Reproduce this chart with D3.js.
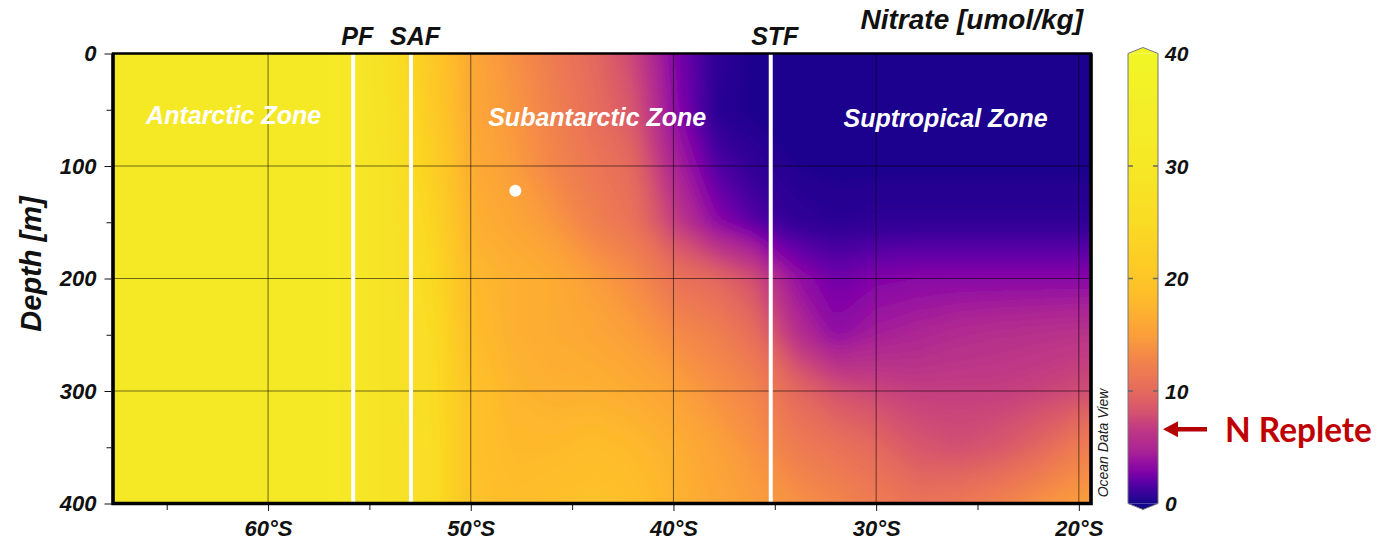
<!DOCTYPE html>
<html>
<head>
<meta charset="utf-8">
<script src="https://cdn.jsdelivr.net/npm/d3@7"></script>
<style>
  body { margin: 0; background: #fff; }
  svg { display: block; font-family: "Liberation Sans", Arial, sans-serif; }
  .ax text { font-weight: bold; font-style: italic; font-size: 22px; fill: #111; }
  .ax line { stroke: #111; }
</style>
</head>
<body>
<svg id="chart" width="1383" height="541"></svg>
<script>
// ------------------------------------------------------------------ //
//  Nitrate section, values (umol/kg)            //
// ------------------------------------------------------------------ //

// grid columns (deg, negative = south) and rows (m)
var lats = [-68, -66, -64, -62, -60, -58, -56, -54, -52, -50, -48, -46, -44,
            -42, -40, -38, -36, -34, -32, -30, -28, -26, -24, -22, -20, -18];
var depths = [0, 50, 100, 150, 200, 250, 300, 350, 400];

var no3_000 = [31, 31, 31, 31, 31, 31, 30, 27, 21, 16, 14, 12, 10, 7.5, 3, 0.8, 0.3, 0.2, 0.2, 0.2, 0.2, 0.2, 0.2, 0.2, 0.2, 0.2];
var no3_050 = [31, 31, 31, 31, 31, 31, 30, 27.5, 21.5, 16, 14.5, 12.5, 10.5, 8.5, 3.5, 0.6, 0.3, 0.2, 0.2, 0.2, 0.2, 0.2, 0.2, 0.2, 0.2, 0.2];
var no3_100 = [31, 31, 31, 31, 31, 31, 30, 28, 22.5, 16.5, 15, 13, 11.5, 10, 5, 1.8, 0.8, 0.4, 0.3, 0.3, 0.3, 0.3, 0.3, 0.3, 0.3, 0.3];
var no3_150 = [31, 31, 31, 31, 31, 31, 30, 28, 24, 17, 16, 14.5, 12.5, 11, 7, 3.5, 1.8, 0.8, 0.6, 0.7, 0.7, 0.7, 0.7, 0.7, 0.7, 0.7];
var no3_200 = [31, 31, 31, 31, 31, 31, 30, 28, 25, 18, 17, 16.5, 15, 13.5, 11, 10, 8, 3.8, 2.5, 3, 3.2, 3.2, 3.2, 3.2, 3.2, 3.2];
var no3_250 = [31, 31, 31, 31, 31, 31, 30, 28, 26, 18.5, 17, 16.5, 16, 15, 13.5, 12.5, 10.5, 6, 3.5, 4.5, 5, 5.5, 5.8, 6, 6.2, 6.2];
var no3_300 = [31, 31, 31, 31, 31, 31, 30, 28, 26, 19.5, 17.5, 17, 17, 16.5, 15.5, 14, 12.8, 10, 8.2, 7.5, 7, 7, 7, 7.3, 7.8, 8];
var no3_350 = [31, 31, 31, 31, 31, 31, 30, 28, 26.5, 19.5, 18, 18, 18.5, 18, 17, 15.5, 14, 12, 11, 10, 8.5, 8, 8.5, 9.8, 12, 12.5];
var no3_400 = [31, 31, 31, 31, 31, 31, 30, 28, 26.5, 19.5, 18.5, 19, 19.5, 19, 17.5, 16, 15, 14, 13, 12, 11, 11.5, 12.5, 14, 15, 15.5];
var grid = [no3_000, no3_050, no3_100, no3_150, no3_200, no3_250, no3_300, no3_350, no3_400];

var fronts = [{name: "PF", lat: -55.8}, {name: "SAF", lat: -52.95}, {name: "STF", lat: -35.2}];
var zones = [
  {name: "Antarctic Zone", lat: -61.7, depth: 63},
  {name: "Subantarctic Zone", lat: -43.76, depth: 64},
  {name: "Suptropical Zone", lat: -26.57, depth: 65.5}
];
var marker = [{lat: -47.8, depth: 122}];

var latTicks = [-60, -50, -40, -30, -20];
var latMinor = [-65, -55, -45, -35, -25];
var depthTicks = [0, 100, 200, 300, 400];
var depthMinor = [50, 150, 250, 350];
var cbarTicks = [0, 10, 20, 30, 40];
var repleteLevel = 6.6;

// ODV colour bar: value -> position along plasma
var stopValues = [0, 1.2, 3, 4.7, 6.6, 8.3, 10, 12.7, 15, 18, 20, 25, 30, 40];
var stopPlasma = [0.01, 0.1, 0.27, 0.38, 0.45, 0.55, 0.62, 0.70, 0.78, 0.85, 0.88, 0.93, 0.96, 0.99];

// ------------------------------------------------------------------ //
//  Setup                                                              //
// ------------------------------------------------------------------ //

var svg = d3.select("#chart");

var x = d3.scaleLinear().domain([-67.65, -19.4]).range([113, 1091]);
var y = d3.scaleLinear().domain([0, 400]).range([53.5, 503.5]);
var cy = d3.scaleLinear().domain([0, 40]).range([503.5, 53.5]);

var tScale = d3.scaleLinear().domain(stopValues).range(stopPlasma).clamp(true);
function color(v) { return d3.interpolatePlasma(tScale(v)); }

var defs = svg.append("defs");
defs.append("clipPath").attr("id", "plotclip")
  .append("rect")
  .attr("x", x.range()[0]).attr("y", y.range()[0])
  .attr("width", x.range()[1] - x.range()[0])
  .attr("height", y.range()[1] - y.range()[0]);

defs.append("filter").attr("id", "soft")
  .attr("x", "-5%").attr("y", "-5%").attr("width", "110%").attr("height", "110%")
  .append("feGaussianBlur").attr("stdDeviation", 7);

// ------------------------------------------------------------------ //
//  Gridded field as filled contours                                   //
// ------------------------------------------------------------------ //

var n = lats.length, m = depths.length;
var values = [];
grid.forEach(function(row) { row.forEach(function(v) { values.push(v); }); });

var contours = d3.contours()
  .size([n, m])
  .smooth(true)
  .thresholds(d3.range(0, 40, 0.2))(values);

var gx = d3.scaleLinear().domain([0.5, n - 0.5]).range([x(lats[0]), x(lats[n - 1])]);
var gy = d3.scaleLinear().domain([0.5, m - 0.5]).range([y(depths[0]), y(depths[m - 1])]);
var path = d3.geoPath(d3.geoTransform({
  point: function(px, py) { this.stream.point(gx(px), gy(py)); }
}));

svg.append("g").attr("clip-path", "url(#plotclip)")
  .append("g").attr("filter", "url(#soft)")
  .selectAll("path")
  .data(contours)
  .enter().append("path")
  .attr("d", path)
  .attr("fill", function(d) { return color(d.value); });

// grid lines
var gridG = svg.append("g").attr("stroke", "rgba(0,0,0,0.55)").attr("stroke-width", 1);
gridG.selectAll(".vl").data(latTicks).enter().append("line")
  .attr("x1", function(d) { return x(d); }).attr("x2", function(d) { return x(d); })
  .attr("y1", y(0)).attr("y2", y(400));
gridG.selectAll(".hl").data([100, 200, 300]).enter().append("line")
  .attr("x1", x.range()[0]).attr("x2", x.range()[1])
  .attr("y1", function(d) { return y(d); }).attr("y2", function(d) { return y(d); });

// fronts
svg.append("g").selectAll("line").data(fronts).enter().append("line")
  .attr("x1", function(d) { return x(d.lat); }).attr("x2", function(d) { return x(d.lat); })
  .attr("y1", y(0)).attr("y2", y(400))
  .attr("stroke", "#fff").attr("stroke-width", 4);

svg.append("g").selectAll("text").data(fronts).enter().append("text")
  .attr("x", function(d) { return x(d.lat) + 4; })
  .attr("y", 45)
  .attr("text-anchor", "middle")
  .style("font-weight", "bold").style("font-style", "italic").style("font-size", "25px")
  .attr("fill", "#111")
  .text(function(d) { return d.name; });

// marker
svg.append("g").selectAll("circle").data(marker).enter().append("circle")
  .attr("cx", function(d) { return x(d.lat); })
  .attr("cy", function(d) { return y(d.depth); })
  .attr("r", 6).attr("fill", "#fff");

// zone labels
svg.append("g").selectAll("text").data(zones).enter().append("text")
  .attr("x", function(d) { return x(d.lat); })
  .attr("y", function(d) { return y(d.depth); })
  .attr("text-anchor", "middle")
  .style("font-weight", "bold").style("font-style", "italic").style("font-size", "25px")
  .attr("fill", "#fff")
  .text(function(d) { return d.name; });

// frame
svg.append("rect")
  .attr("x", x.range()[0]).attr("y", y.range()[0])
  .attr("width", x.range()[1] - x.range()[0])
  .attr("height", y.range()[1] - y.range()[0])
  .attr("fill", "none").attr("stroke", "#000").attr("stroke-width", 2.5);
svg.append("path")
  .attr("d", "M" + x.range()[0] + "," + y.range()[0] + "V" + y.range()[1] + "H" + x.range()[1] + "V" + y.range()[0])
  .attr("fill", "none").attr("stroke", "#000").attr("stroke-width", 3.5);

// ------------------------------------------------------------------ //
//  Axes                                                               //
// ------------------------------------------------------------------ //

svg.append("g").attr("class", "ax")
  .attr("transform", "translate(" + (x.range()[0] - 1.5) + ",0)")
  .call(d3.axisLeft(y).tickValues(depthTicks).tickSize(7).tickSizeOuter(0).tickPadding(8));
svg.append("g").attr("class", "ax")
  .attr("transform", "translate(" + (x.range()[0] - 1.5) + ",0)")
  .call(d3.axisLeft(y).tickValues(depthMinor).tickSize(5).tickSizeOuter(0).tickFormat(""));

svg.append("g").attr("class", "ax")
  .attr("transform", "translate(0," + (y.range()[1] + 1.5) + ")")
  .call(d3.axisBottom(x).tickValues(latTicks).tickSize(6).tickSizeOuter(0).tickPadding(9)
    .tickFormat(function(d) { return Math.abs(d) + "°S"; }));
svg.append("g").attr("class", "ax")
  .attr("transform", "translate(0," + (y.range()[1] + 1.5) + ")")
  .call(d3.axisBottom(x).tickValues(latMinor).tickSize(5).tickSizeOuter(0).tickFormat(""));

svg.selectAll(".ax .domain").remove();

svg.append("text")
  .attr("transform", "translate(41,264) rotate(-90)")
  .attr("text-anchor", "middle")
  .style("font-weight", "bold").style("font-style", "italic").style("font-size", "29px")
  .attr("fill", "#111")
  .text("Depth [m]");

svg.append("text")
  .attr("x", 1083).attr("y", 29)
  .attr("text-anchor", "end")
  .style("font-weight", "bold").style("font-style", "italic").style("font-size", "28px")
  .attr("fill", "#111")
  .text("Nitrate [umol/kg]");

svg.append("text")
  .attr("transform", "translate(1108,443) rotate(-90)")
  .attr("text-anchor", "middle")
  .style("font-style", "italic").style("font-size", "14px")
  .attr("fill", "#222")
  .text("Ocean Data View");

// ------------------------------------------------------------------ //
//  Colour bar                                                         //
// ------------------------------------------------------------------ //

var cbX0 = 1128, cbX1 = 1158;
var grad = defs.append("linearGradient").attr("id", "cbar")
  .attr("x1", 0).attr("y1", 1).attr("x2", 0).attr("y2", 0);
grad.selectAll("stop").data(d3.range(0, 40.01, 0.5)).enter().append("stop")
  .attr("offset", function(d) { return d / 40; })
  .attr("stop-color", function(d) { return color(d); });

svg.append("path")
  .attr("d", "M" + cbX0 + "," + cy(40) + "L" + (cbX0 + cbX1) / 2 + "," + (cy(40) - 6) + "L" + cbX1 + "," + cy(40) + "Z")
  .attr("fill", color(40));
svg.append("path")
  .attr("d", "M" + cbX0 + "," + cy(0) + "L" + (cbX0 + cbX1) / 2 + "," + (cy(0) + 6) + "L" + cbX1 + "," + cy(0) + "Z")
  .attr("fill", color(0));
svg.append("rect")
  .attr("x", cbX0).attr("y", cy(40))
  .attr("width", cbX1 - cbX0).attr("height", cy(0) - cy(40))
  .attr("fill", "url(#cbar)");
svg.append("path")
  .attr("d", "M" + cbX0 + "," + cy(0) + "V" + cy(40) + "L" + (cbX0 + cbX1) / 2 + "," + (cy(40) - 6) +
             "L" + cbX1 + "," + cy(40) + "V" + cy(0) + "L" + (cbX0 + cbX1) / 2 + "," + (cy(0) + 6) + "Z")
  .attr("fill", "none").attr("stroke", "#777").attr("stroke-width", 1);

var cbT = svg.append("g");
cbT.selectAll(".tl").data([10, 20, 30]).enter().append("line")
  .attr("x1", cbX0).attr("x2", cbX0 + 5)
  .attr("y1", function(d) { return cy(d); }).attr("y2", function(d) { return cy(d); })
  .attr("stroke", "#666").attr("stroke-width", 1.5);
cbT.selectAll(".tr").data([10, 20, 30]).enter().append("line")
  .attr("x1", cbX1 - 5).attr("x2", cbX1)
  .attr("y1", function(d) { return cy(d); }).attr("y2", function(d) { return cy(d); })
  .attr("stroke", "#666").attr("stroke-width", 1.5);
cbT.selectAll("text").data(cbarTicks).enter().append("text")
  .attr("x", 1165)
  .attr("y", function(d) { return cy(d); })
  .attr("dy", "0.36em")
  .style("font-weight", "bold").style("font-style", "italic").style("font-size", "21px")
  .attr("fill", "#111")
  .text(function(d) { return d; });

// N replete annotation
var ay = cy(repleteLevel);
svg.append("line")
  .attr("x1", 1176).attr("x2", 1207).attr("y1", ay).attr("y2", ay)
  .attr("stroke", "#b50000").attr("stroke-width", 4.5);
svg.append("path")
  .attr("d", "M1163," + ay + "L1178," + (ay - 8) + "L1178," + (ay + 8) + "Z")
  .attr("fill", "#b50000");

var rep = svg.append("text")
  .attr("x", 1225).attr("y", ay + 12.5)
  .style("font-family", "Lato, 'Open Sans', sans-serif")
  .style("font-weight", "bold").style("font-size", "33px")
  .attr("fill", "#c00000")
  .text("N Replete");
var rw = rep.node().getComputedTextLength();
rep.style("font-size", (33 * 147 / rw) + "px");
</script>
</body>
</html>
